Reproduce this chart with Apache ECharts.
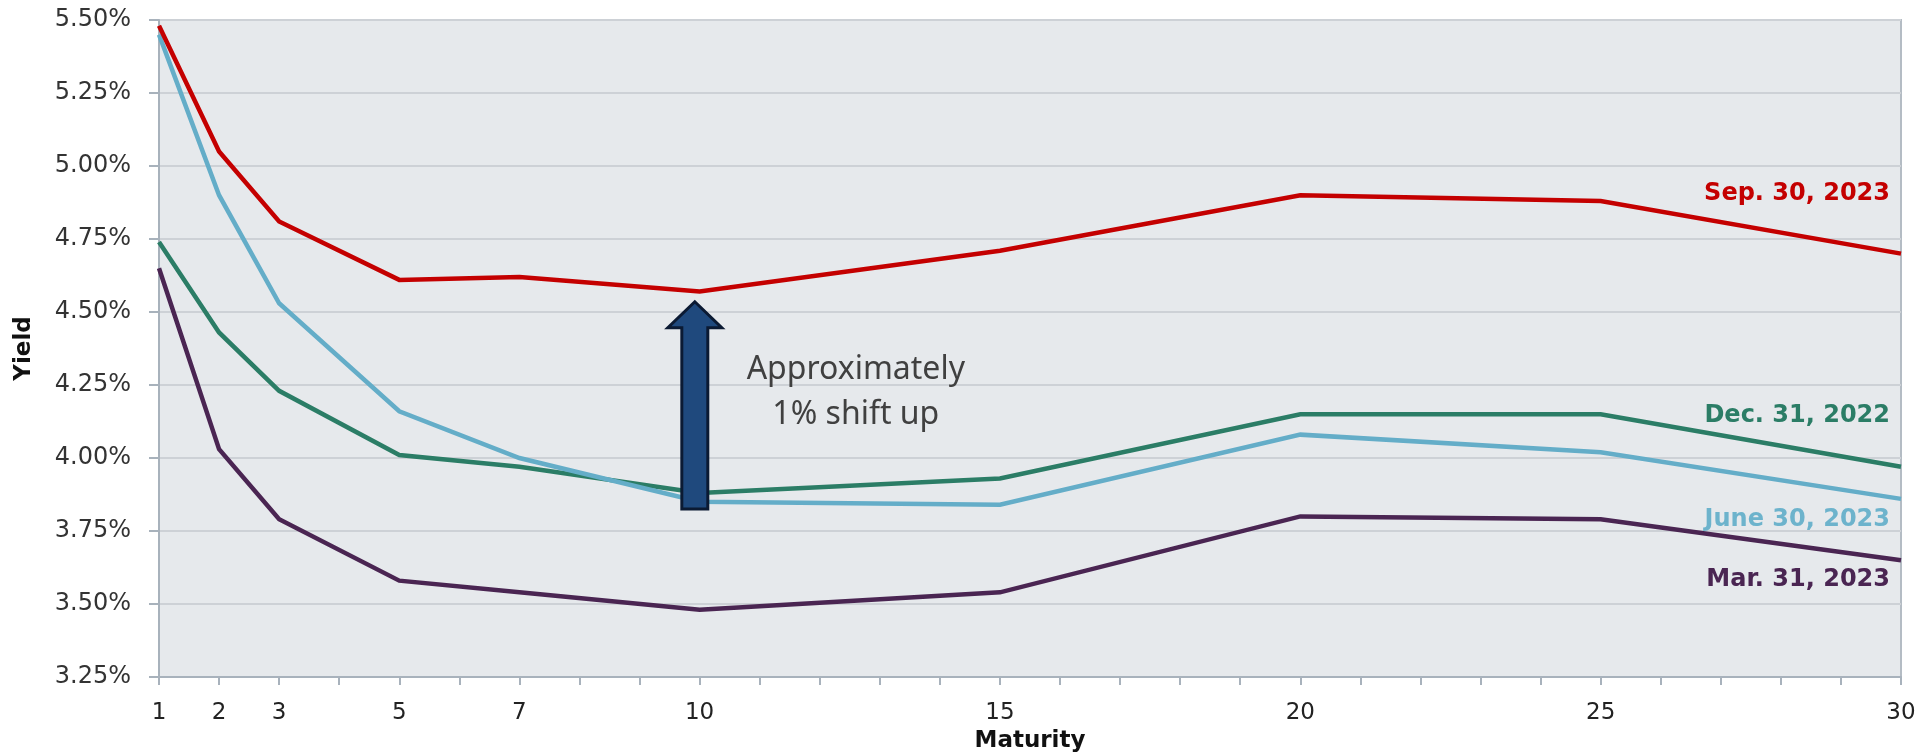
<!DOCTYPE html>
<html>
<head>
<meta charset="utf-8">
<title>Treasury Yield Curves</title>
<script src="https://cdn.jsdelivr.net/npm/echarts@6/dist/echarts.min.js"></script>
<style>
  html, body { margin: 0; padding: 0; background: #ffffff; }
  #chart { width: 1920px; height: 753px; }
</style>
</head>
<body>
<div id="chart"></div>
<script>
// Maturity in years
const maturities = [1, 2, 3, 5, 7, 10, 15, 20, 25, 30];

// Yield curves (percent)
const dec2022 = [4.74, 4.43, 4.23, 4.01, 3.97, 3.88, 3.93, 4.15, 4.15, 3.97];
const mar2023 = [4.65, 4.03, 3.79, 3.58, 3.54, 3.48, 3.54, 3.80, 3.79, 3.65];
const jun2023 = [5.45, 4.90, 4.53, 4.16, 4.00, 3.85, 3.84, 4.08, 4.02, 3.86];
const sep2023 = [5.48, 5.05, 4.81, 4.61, 4.62, 4.57, 4.71, 4.90, 4.88, 4.70];

// Labelled maturities on the x axis
const xLabelValues = [1, 2, 3, 5, 7, 10, 15, 20, 25, 30];

// Curve names
const curveNames = ['Dec. 31, 2022', 'Mar. 31, 2023', 'June 30, 2023', 'Sep. 30, 2023'];

const lineColors = {
  dec: '#2b7d66',
  mar: '#4a2552',
  jun: '#64adc8',
  sep: '#c40000'
};

function pairs(ys) {
  return maturities.map((m, i) => [m, ys[i]]);
}

function lineSeries(name, ys, color) {
  return {
    name: name,
    type: 'line',
    data: pairs(ys),
    symbol: 'none',
    lineStyle: { color: color, width: 4.5, join: 'miter' },
    itemStyle: { color: color },
    z: 3
  };
}

const chart = echarts.init(document.getElementById('chart'), null, { renderer: 'canvas' });

const font = 'DejaVu Sans, Verdana, sans-serif';

chart.setOption({
  animation: false,
  backgroundColor: '#ffffff',
  grid: {
    left: 159, right: 19, top: 20, bottom: 76,
    containLabel: false,
    outerBoundsMode: 'none',
    show: true,
    backgroundColor: '#e6e9ec',
    borderColor: '#b4bcc4',
    borderWidth: 2
  },
  xAxis: {
    type: 'value',
    min: 1, max: 30, interval: 1,
    name: 'Maturity',
    nameLocation: 'middle',
    nameGap: 53,
    nameMoveOverlap: false,
    nameTextStyle: { fontFamily: font, fontWeight: 'bold', fontSize: 23, color: '#111111' },
    axisLine: { show: true, lineStyle: { color: '#a8b2bc', width: 2 } },
    axisTick: { show: true, length: 8, lineStyle: { color: '#a8b2bc', width: 2 } },
    axisLabel: {
      margin: 25,
      fontFamily: font, fontSize: 23, color: '#222222',
      formatter: function (v) {
        const r = Math.round(v);
        return xLabelValues.indexOf(r) >= 0 ? String(r) : '';
      }
    },
    splitLine: { show: false }
  },
  yAxis: {
    type: 'value',
    min: 3.25, max: 5.5, interval: 0.25,
    name: 'Yield',
    nameLocation: 'middle',
    nameGap: 123,
    nameRotate: 90,
    nameMoveOverlap: false,
    nameTextStyle: { fontFamily: font, fontWeight: 'bold', fontSize: 23, color: '#111111' },
    axisLine: { show: true, lineStyle: { color: '#a8b2bc', width: 2 } },
    axisTick: { show: true, length: 10, lineStyle: { color: '#a8b2bc', width: 2 } },
    axisLabel: {
      margin: 28,
      fontFamily: font, fontSize: 24, color: '#333333',
      formatter: function (v) { return v.toFixed(2) + '%'; }
    },
    splitLine: { show: true, lineStyle: { color: '#cdd1d6', width: 2 } }
  },
  series: [
    lineSeries(curveNames[0], dec2022, lineColors.dec),
    lineSeries(curveNames[1], mar2023, lineColors.mar),
    lineSeries(curveNames[2], jun2023, lineColors.jun),
    lineSeries(curveNames[3], sep2023, lineColors.sep)
  ]
});

// Curve name tags near the right edge, and the shift annotation
const tagSpecs = [
  { text: curveNames[3], level: 4.905, color: '#c40000' },
  { text: curveNames[0], level: 4.144, color: '#2b7d66' },
  { text: curveNames[2], level: 3.79, color: '#6db3cc' },
  { text: curveNames[1], level: 3.582, color: '#4a2552' }
];

function px(x, y) {
  return chart.convertToPixel({ gridIndex: 0 }, [x, y]);
}

const graphics = tagSpecs.map(function (t) {
  const p = px(30, t.level);
  return {
    type: 'text',
    x: p[0] - 11,
    y: p[1],
    z: 10,
    style: {
      text: t.text,
      fill: t.color,
      font: 'bold 24px ' + font,
      align: 'right',
      verticalAlign: 'middle'
    }
  };
});

// Block arrow from the December curve up toward the September curve at 10 years
const arrowTop = px(9.92, 4.535);
const arrowBottom = px(9.92, 3.825);
const cx = arrowTop[0];
const headHalf = 27, shaftHalf = 13, headLen = 26;
graphics.push({
  type: 'polygon',
  z: 8,
  shape: {
    points: [
      [cx, arrowTop[1]],
      [cx + headHalf, arrowTop[1] + headLen],
      [cx + shaftHalf, arrowTop[1] + headLen],
      [cx + shaftHalf, arrowBottom[1]],
      [cx - shaftHalf, arrowBottom[1]],
      [cx - shaftHalf, arrowTop[1] + headLen],
      [cx - headHalf, arrowTop[1] + headLen]
    ]
  },
  style: { fill: '#1f497d', stroke: '#0b1a33', lineWidth: 3, lineJoin: 'miter' }
});

const notePos = px(12.6, 4.225);
graphics.push({
  type: 'text',
  x: notePos[0],
  y: notePos[1],
  z: 10,
  style: {
    text: 'Approximately\n1% shift up',
    fill: '#404040',
    font: '32px "Noto Sans", sans-serif',
    lineHeight: 45,
    align: 'center',
    verticalAlign: 'middle'
  }
});

chart.setOption({ graphic: graphics });
</script>
</body>
</html>
